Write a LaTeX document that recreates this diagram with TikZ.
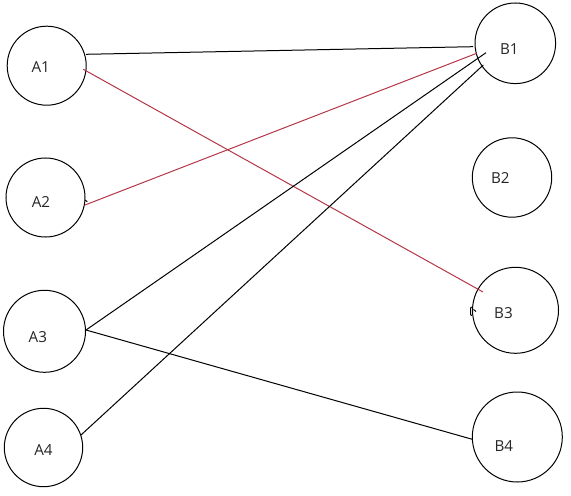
\documentclass[tikz,border=0pt]{standalone}
\usepackage{fontspec}
\setmainfont{Open Sans}
\usetikzlibrary{calc}
\definecolor{matchred}{RGB}{180,55,72}

\begin{document}
\begin{tikzpicture}[x=0.5pt, y=-0.5pt, line width=0.5pt,
    vertex/.style={draw, circle, inner sep=0pt, outer sep=0pt},
    tag/.style={font=\fontsize{7.6}{9}\selectfont, text=black!85},
    edge/.style={black},
    redge/.style={matchred}]
  \useasboundingbox (0,0) rectangle (571,496);
  % the two columns of vertices: name/x/y/diameter in pt/label shift
  \foreach \nm/\px/\py/\dia/\dx/\dy in {
      A1/46.7/65.7/39.5/-6/1.5, A2/45.5/197.5/39.5/-4.5/4.5,
      A3/44.5/331.3/41/-6.7/6, A4/43.5/447.5/39.2/0/3,
      B1/515.3/43.3/40.3/-6/6, B2/512/177.5/39.7/-11.7/0,
      B3/515.5/310.3/43/-12/3, B4/517.3/437/45/-13.5/9} {
    \node[vertex, minimum size=\dia pt] (\nm) at (\px,\py) {};
    \node[tag] (\nm-t) at ($(\nm)+(\dx,\dy)$) {\nm};
  }
  % matching edges
  \draw[edge] ($(A1)+(39.3,-11.4)$) -- ($(B1)+(-42.3,3.4)$);
  \draw[redge] ($(A1)+(36.6,3.6)$) -- ($(B3)+(-32.5,-18.3)$);
  \draw[redge] ($(A2)+(39.5,7.5)$) -- ($(B1)+(-38.6,10)$);
  \draw[edge] ($(A3)+(41.5,-1.3)$) -- ($(B1)+(-29.3,9.4)$);
  \draw[edge] ($(A4)+(37.5,-12.5)$) -- ($(B1)+(-32,21.7)$);
  \draw[edge] ($(A3)+(41.5,-1.3)$) -- ($(B4)+(-45,2.3)$);
  % small stray pen marks
  \draw[edge] ($(A2)+(39.5,2.5)$) -- ($(A2)+(41.8,4.2)$);
  \draw[edge] ($(B3)+(-43.8,-3.3)$) -- ($(B3)+(-45,-2.3)$) -- ($(B3)+(-45,4.4)$) -- ($(B3)+(-43.5,5.2)$);
  \draw[edge] ($(B3)+(-42,-0.8)$) -- ($(B3)+(-39.5,1.2)$);
\end{tikzpicture}
\end{document}
